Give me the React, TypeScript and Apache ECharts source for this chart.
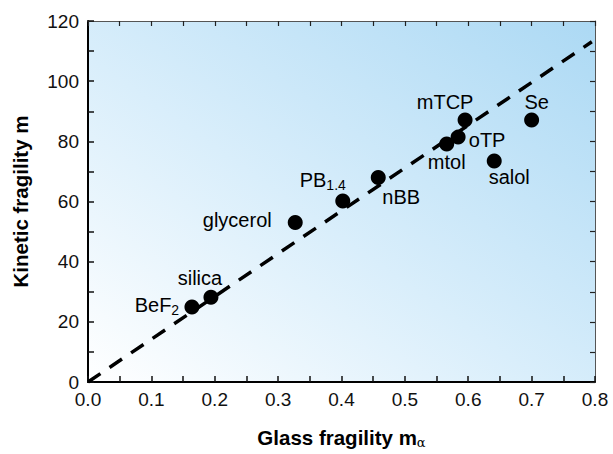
import React, { useEffect, useRef } from "react";
import * as echarts from "echarts";

const names = ["BeF2", "silica", "glycerol", "PB1.4", "nBB", "mtol", "oTP", "mTCP", "salol", "Se"];
const glassFragility = [0.164, 0.194, 0.327, 0.402, 0.458, 0.566, 0.584, 0.595, 0.641, 0.7];
const kineticFragility = [24.9, 28.2, 53.0, 60.2, 68.0, 79.1, 81.4, 87.1, 73.5, 87.1];
const labelTexts = ["BeF{s|2}", "silica", "glycerol", "PB{s|1.4}", "nBB", "mtol", "oTP", "mTCP", "salol", "Se"];
const labelOffsets: [number, number][] = [
  [-35, -2], [-11, -19], [-58, -3], [-20, -21], [23, 20], [0, 18], [29, 3], [-20, -18], [15, 16], [5, -18],
];
const fitX = [0, 0.795];
const fitY = [0, 113.1];

const FONT = "'Liberation Sans', Arial, Helvetica, sans-serif";

export default function App() {
  const ref = useRef<HTMLDivElement>(null);
  useEffect(() => {
    if (!ref.current) return;
    const chart = echarts.init(ref.current, undefined, { renderer: "svg" });
    const tickMain = { show: true, inside: true, length: 6, lineStyle: { color: "#111", width: 1.5 } };
    const minorMain = { show: true, splitNumber: 2, length: 6, lineStyle: { color: "#111", width: 1.5 } };
    const tickSec = { show: true, inside: true, length: 5, lineStyle: { color: "#222", width: 1.2 } };
    const minorSec = { show: true, splitNumber: 2, length: 5, lineStyle: { color: "#222", width: 1.2 } };
    const scatterData = names.map((n, i) => ({
      name: n,
      value: [glassFragility[i], kineticFragility[i]],
      label: {
        show: true,
        position: "inside",
        offset: labelOffsets[i],
        formatter: labelTexts[i],
        fontFamily: FONT,
        fontSize: 20,
        color: "#000",
        opacity: 1,
        rich: {
          s: { fontSize: 14, fontFamily: FONT, color: "#000", padding: [10, 0, 0, 0] },
        },
      },
    }));
    chart.setOption({
      animation: false,
      textStyle: { fontFamily: FONT },
      grid: {
        left: 88,
        right: 18,
        top: 21,
        bottom: 66,
        show: true,
        borderWidth: 0,
        backgroundColor: new echarts.graphic.LinearGradient(0, 1, 1, 0, [
          { offset: 0, color: "#ffffff" },
          { offset: 0.45, color: "#d9eefb" },
          { offset: 1, color: "#acd9f4" },
        ]),
      },
      xAxis: [
        {
          type: "value",
          min: 0,
          max: 0.8,
          interval: 0.1,
          position: "bottom",
          name: "{b|Glass fragility m}{a|α}",
          nameLocation: "middle",
          nameGap: 44,
          nameTextStyle: {
            rich: {
              b: { fontFamily: FONT, fontSize: 20.5, fontWeight: "bold", color: "#000" },
              a: { fontFamily: "'DejaVu Serif', serif", fontSize: 13, color: "#000", padding: [10, 0, 0, 0] },
            },
          },
          axisLine: { show: true, onZero: false, lineStyle: { color: "#000", width: 2 } },
          axisTick: tickMain,
          minorTick: minorMain,
          splitLine: { show: false },
          axisLabel: { fontFamily: FONT, fontSize: 19, color: "#111", margin: 8, formatter: (v: number) => v.toFixed(1) },
        },
        {
          type: "value",
          min: 0,
          max: 0.8,
          interval: 0.1,
          position: "top",
          axisLine: { show: true, onZero: false, lineStyle: { color: "#555", width: 1 } },
          axisTick: tickSec,
          minorTick: minorSec,
          splitLine: { show: false },
          axisLabel: { show: false },
        },
      ],
      yAxis: [
        {
          type: "value",
          min: 0,
          max: 120,
          interval: 20,
          position: "left",
          name: "Kinetic fragility m",
          nameLocation: "middle",
          nameGap: 57,
          nameTextStyle: { fontFamily: FONT, fontSize: 20.5, fontWeight: "bold", color: "#000" },
          axisLine: { show: true, onZero: false, lineStyle: { color: "#000", width: 2 } },
          axisTick: tickMain,
          minorTick: minorMain,
          splitLine: { show: false },
          axisLabel: { fontFamily: FONT, fontSize: 19, color: "#111", margin: 9 },
        },
        {
          type: "value",
          min: 0,
          max: 120,
          interval: 20,
          position: "right",
          axisLine: { show: true, onZero: false, lineStyle: { color: "#555", width: 1 } },
          axisTick: tickSec,
          minorTick: minorSec,
          splitLine: { show: false },
          axisLabel: { show: false },
        },
      ],
      series: [
        {
          type: "line",
          data: fitX.map((x, i) => [x, fitY[i]]),
          symbol: "none",
          silent: true,
          lineStyle: { color: "#000", width: 3.5, type: [15, 11], opacity: 1 },
          z: 2,
        },
        {
          type: "scatter",
          data: scatterData,
          symbol: "circle",
          symbolSize: 15,
          itemStyle: { color: "#000", opacity: 1 },
          z: 3,
        },
      ],
    });
    return () => chart.dispose();
  }, []);
  return <div ref={ref} style={{ position: "absolute", left: 0, top: 0, width: 613, height: 454 }} />;
}
